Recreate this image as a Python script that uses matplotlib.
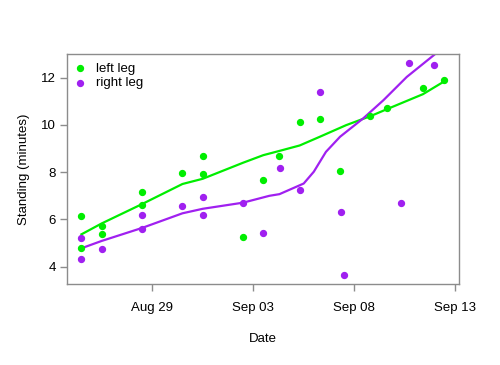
import matplotlib
matplotlib.use("Agg")
import matplotlib.pyplot as plt
import matplotlib.dates as mdates
import pandas as pd

plt.rcParams['font.family'] = ['Liberation Sans', 'DejaVu Sans']

# ---- data (day offsets from Aug 29 00:00) ----
start = pd.Timestamp("2011-08-29")

left_days = [-3.5, -3.5, -2.5, -2.5, -0.5, -0.5, 1.5, 2.5, 2.5, 4.5, 5.5,
             6.3, 7.3, 8.3, 9.3, 10.8, 11.6, 13.4, 14.45]
left_vals = [6.16, 4.78, 5.72, 5.37, 7.17, 6.61, 7.97, 8.68, 7.93, 5.27, 7.67,
             8.68, 10.13, 10.26, 8.06, 10.37, 10.7, 11.56, 11.9]

right_days = [-3.5, -3.5, -2.5, -0.5, -0.5, 1.5, 2.5, 2.5, 4.5, 5.5,
              6.33, 7.33, 8.33, 9.33, 9.5, 12.33, 12.7, 13.95]
right_vals = [5.23, 4.33, 4.73, 6.19, 5.61, 6.58, 6.95, 6.17, 6.69, 5.41,
              8.16, 7.23, 11.4, 6.31, 3.64, 6.71, 12.63, 12.52]

# smoothed curves as drawn in the reference
left_fit_days = [-3.5, -2.5, -0.5, 1.5, 2.5, 4.5, 5.5, 6.3, 7.3, 8.3, 9.6, 10.8, 11.6, 13.4, 14.45]
left_fit_vals = [5.37, 5.83, 6.65, 7.5, 7.72, 8.4, 8.72, 8.9, 9.13, 9.5, 9.99, 10.37, 10.66, 11.3, 11.84]

right_fit_days = [-3.5, -2.5, -0.5, 1.5, 2.5, 4.5, 5.8, 6.3, 7.5, 8.0, 8.6, 9.3, 10.45, 11.45, 12.6, 13.95]
right_fit_vals = [4.78, 5.09, 5.64, 6.26, 6.45, 6.71, 7.0, 7.07, 7.52, 8.02, 8.86, 9.5, 10.28, 11.05, 12.03, 12.96]

tick_dates = ["2011-08-29", "2011-09-03", "2011-09-08", "2011-09-13"]

def to_dates(days):
    return [start + pd.Timedelta(days=d) for d in days]

green = "#00ee00"
purple = "#a020f0"
axcol = "#8c8c8c"

fig = plt.figure(figsize=(5, 3.65), dpi=100)
ax = fig.add_axes([0.1346, 0.2227, 0.784, 0.6293])

ax.plot(to_dates(left_fit_days), left_fit_vals, color=green, lw=1.6)
ax.plot(to_dates(right_fit_days), right_fit_vals, color=purple, lw=1.6)
ax.scatter(to_dates(left_days), left_vals, s=18, color=green, zorder=3, label="left leg")
ax.scatter(to_dates(right_days), right_vals, s=18, color=purple, zorder=3, label="right leg")

ax.set_xlim(start + pd.Timedelta(days=-4.2), start + pd.Timedelta(days=15.2))
ax.set_ylim(3.28, 13.0)
ax.set_yticks([4, 6, 8, 10, 12])
ax.set_xticks(pd.to_datetime(tick_dates))
ax.xaxis.set_major_formatter(mdates.DateFormatter("%b %d"))

for s in ax.spines.values():
    s.set_color(axcol)
    s.set_linewidth(1.0)
ax.tick_params(colors=axcol, labelcolor="black", labelsize=9.5, length=5, width=1.0)
ax.tick_params(axis="x", pad=8)
ax.tick_params(axis="y", pad=3)

ax.set_xlabel("Date", fontsize=9.5, labelpad=14)
ax.set_ylabel("Standing (minutes)", fontsize=9.5, labelpad=8)

ax.legend(loc="upper left", frameon=False, fontsize=9.5, handletextpad=0.9,
          borderaxespad=0.65, borderpad=0.0, labelspacing=0.15, handlelength=0.6,
          scatterpoints=1)

fig.savefig("out.png", dpi=100)
